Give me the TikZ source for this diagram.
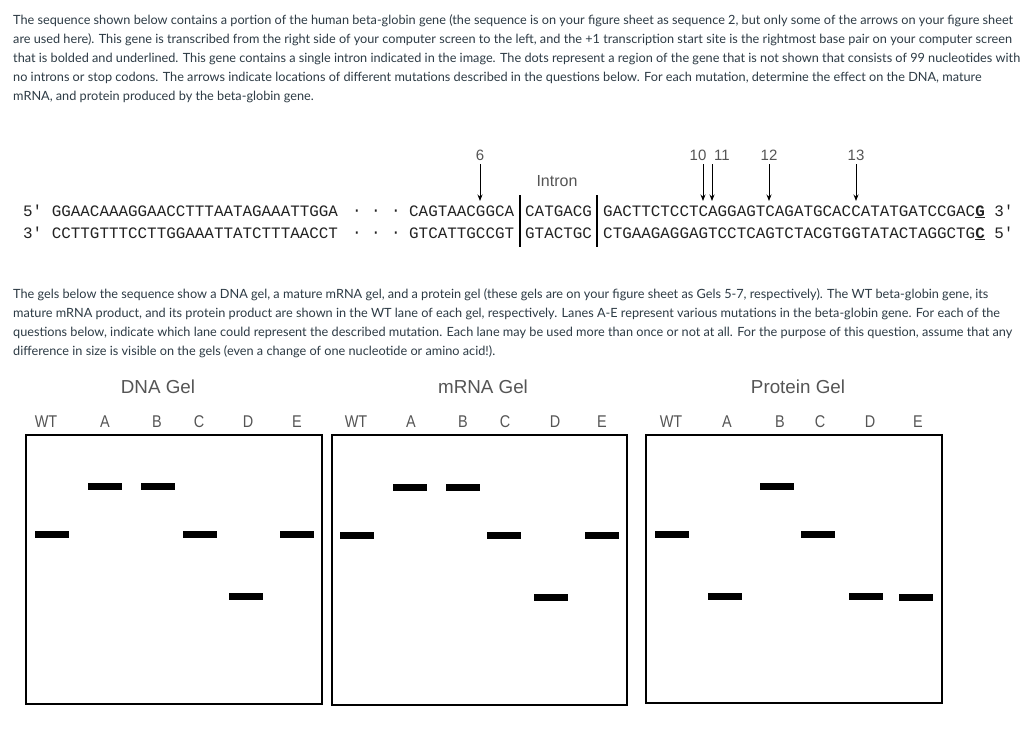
\documentclass[tikz,border=0pt]{standalone}
\usepackage{fontspec}
\setmainfont{Lato}
\newfontfamily\seqfont{Liberation Mono}
\newfontfamily\labfont{Liberation Sans}
\newfontfamily\gelfont[FakeStretch=0.85]{Liberation Sans}
\usetikzlibrary{arrows.meta}
\definecolor{txt}{HTML}{2D3B45}
\definecolor{seqc}{HTML}{222222}
\definecolor{labc}{HTML}{555555}
\tikzset{
  para/.style={anchor=base west, inner sep=0pt, text=txt, font=\fontsize{12.7}{14}\selectfont},
  seq/.style={anchor=base west, inner sep=0pt, text=seqc, font=\seqfont\fontsize{15.9}{18}\selectfont},
  seqdot/.style={anchor=center, inner sep=0pt, text=seqc, font=\seqfont\fontsize{15.9}{18}\selectfont},
  numlab/.style={anchor=base, inner sep=0pt, text=labc, font=\labfont\fontsize{15}{16}\selectfont},
  intronlab/.style={anchor=base, inner sep=0pt, text=labc, font=\labfont\fontsize{16}{18}\selectfont},
  geltitle/.style={anchor=base, inner sep=0pt, text=labc, font=\labfont\fontsize{18.8}{20}\selectfont},
  lane/.style={anchor=base, inner sep=0pt, text=labc, font=\gelfont\fontsize{17}{20}\selectfont},
  gelbox/.style={draw=black, line width=2.6pt, fill=none, inner sep=0pt},
  band/.style={fill=black, draw=none, inner sep=0pt, minimum width=34pt, minimum height=7pt},
  mut/.style={-{Stealth[length=6.5pt,width=5pt]}, line width=0.9pt, black},
  divider/.style={line width=1.3pt, black}
}
\begin{document}
\begin{tikzpicture}[x=1pt,y=-1pt]
\useasboundingbox (0,0) rectangle (1024,747);
\fill[white] (0,0) rectangle (1024,747);

% top paragraph
\node[para] (p1) at (13,24) {The sequence shown below contains a portion of the human beta-globin gene (the sequence is on your figure sheet as sequence 2, but only some of the arrows on your figure sheet};
\node[para] (p2) at (13,43) {are used here). This gene is transcribed from the right side of your computer screen to the left, and the +1 transcription start site is the rightmost base pair on your computer screen};
\node[para] (p3) at (13,62) {that is bolded and underlined. This gene contains a single intron indicated in the image. The dots represent a region of the gene that is not shown that consists of 99 nucleotides with};
\node[para] (p4) at (13,81) {no introns or stop codons. The arrows indicate locations of different mutations described in the questions below. For each mutation, determine the effect on the DNA, mature};
\node[para] (p5) at (13,100) {mRNA, and protein produced by the beta-globin gene.};

% sequence
\node[seq] (tl) at (23,216) {5′ GGAACAAAGGAACCTTTAATAGAAATTGGA};
\node[seqdot] (td1) at (357,213) {·};
\node[seqdot] (td2) at (376,213) {·};
\node[seqdot] (td3) at (396,213) {·};
\node[seq] (te1) at (409,216) {CAGTAACGGCA};
\node[seq] (ti) at (525,216) {CATGACG};
\node[seq] (te2) at (603,216) {GACTTCTCCTCAGGAGTCAGATGCACCATATGATCCGAC\underline{\textbf{G}} 3′};

\node[seq] (bl) at (23,238) {3′ CCTTGTTTCCTTGGAAATTATCTTTAACCT};
\node[seqdot] (bd1) at (357,235) {·};
\node[seqdot] (bd2) at (376,235) {·};
\node[seqdot] (bd3) at (396,235) {·};
\node[seq] (be1) at (409,238) {GTCATTGCCGT};
\node[seq] (bi) at (525,238) {GTACTGC};
\node[seq] (be2) at (603,238) {CTGAAGAGGAGTCCTCAGTCTACGTGGTATACTAGGCTG\underline{\textbf{C}} 5′};

% intron dividers
\coordinate (d1t) at (520,195); \coordinate (d1b) at (520,247);
\coordinate (d2t) at (597,195); \coordinate (d2b) at (597,247);
\draw[divider] (d1t) -- (d1b);
\draw[divider] (d2t) -- (d2b);
\node[intronlab] (intron) at (557,186) {Intron};

% mutation labels and arrows
\node[numlab] (n6) at (480,160) {6};
\node[numlab] (n10) at (698,160) {10};
\node[numlab] (n11) at (722,160) {11};
\node[numlab] (n12) at (769,160) {12};
\node[numlab] (n13) at (856,160) {13};
\coordinate (a6t) at (480,164);  \coordinate (a6b) at (480,201);
\coordinate (a10t) at (703,164); \coordinate (a10b) at (703,201);
\coordinate (a11t) at (712,164); \coordinate (a11b) at (712,201);
\coordinate (a12t) at (769,164); \coordinate (a12b) at (769,201);
\coordinate (a13t) at (856,164); \coordinate (a13b) at (856,201);
\draw[mut] (a6t) -- (a6b);
\draw[mut] (a10t) -- (a10b);
\draw[mut] (a11t) -- (a11b);
\draw[mut] (a12t) -- (a12b);
\draw[mut] (a13t) -- (a13b);

% middle paragraph
\node[para] (q1) at (13,298) {The gels below the sequence show a DNA gel, a mature mRNA gel, and a protein gel (these gels are on your figure sheet as Gels 5-7, respectively). The WT beta-globin gene, its};
\node[para] (q2) at (13,317) {mature mRNA product, and its protein product are shown in the WT lane of each gel, respectively. Lanes A-E represent various mutations in the beta-globin gene. For each of the};
\node[para] (q3) at (13,336) {questions below, indicate which lane could represent the described mutation. Each lane may be used more than once or not at all. For the purpose of this question, assume that any};
\node[para] (q4) at (13,355) {difference in size is visible on the gels (even a change of one nucleotide or amino acid!).};

% gel titles
\node[geltitle] (gt1) at (158,393) {DNA Gel};
\node[geltitle] (gt2) at (483,393) {mRNA Gel};
\node[geltitle] (gt3) at (798,393) {Protein Gel};

% lane labels
\foreach \n/\x in {WT/46,A/105,B/157,C/199,D/248,E/297}{\node[lane] (dl\n) at (\x,427) {\n};}
\foreach \n/\x in {WT/356,A/411,B/463,C/505,D/555,E/602}{\node[lane] (ml\n) at (\x,427) {\n};}
\foreach \n/\x in {WT/671,A/727,B/780,C/820,D/870,E/918}{\node[lane] (pl\n) at (\x,427) {\n};}

% gel boxes
\node[gelbox, minimum width=296pt, minimum height=269pt] (dnagel) at (174,569.5) {};
\node[gelbox, minimum width=295pt, minimum height=270pt] (rnagel) at (479.5,570) {};
\node[gelbox, minimum width=296pt, minimum height=268pt] (protgel) at (794,569) {};

% DNA bands
\node[band] (dWT) at (52,534) {};
\node[band] (dA) at (105,486) {};
\node[band] (dB) at (157.5,486) {};
\node[band] (dC) at (199.5,534) {};
\node[band] (dD) at (246,596) {};
\node[band] (dE) at (296.5,534) {};
% mRNA bands
\node[band] (mWT) at (357,535) {};
\node[band] (mA) at (410,487) {};
\node[band] (mB) at (463,487) {};
\node[band] (mC) at (504,535) {};
\node[band] (mD) at (551,597) {};
\node[band] (mE) at (602,535) {};
% protein bands
\node[band] (pWT) at (672,534) {};
\node[band] (pA) at (724.5,596) {};
\node[band] (pB) at (777,486) {};
\node[band] (pC) at (818,534) {};
\node[band] (pD) at (865.5,596) {};
\node[band] (pE) at (916,597) {};
\end{tikzpicture}
\end{document}
